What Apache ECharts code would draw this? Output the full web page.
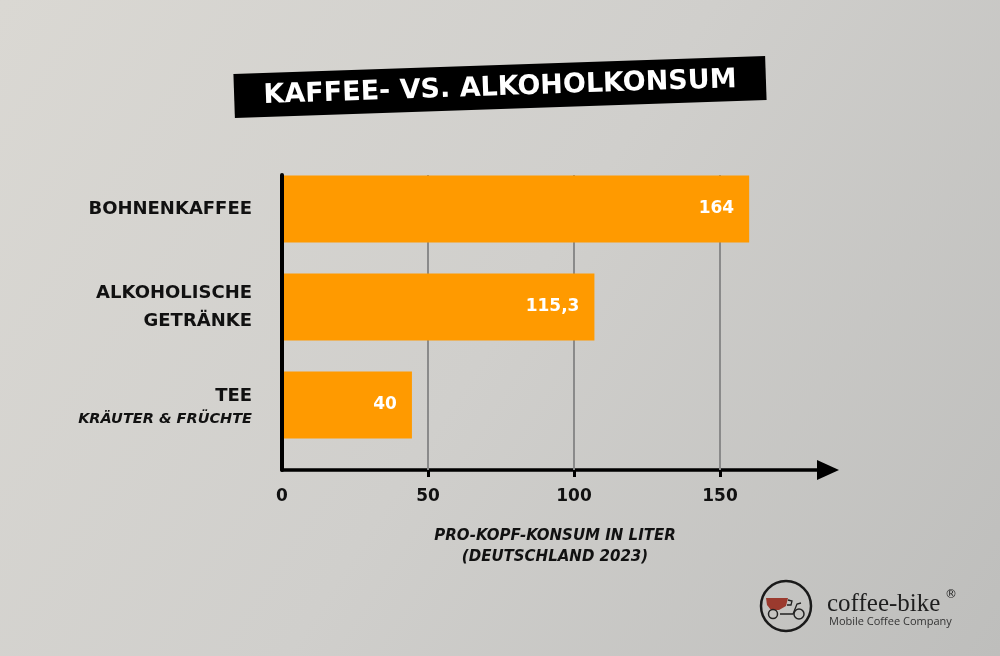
<!DOCTYPE html>
<html>
<head>
<meta charset="utf-8">
<script src="https://cdn.jsdelivr.net/npm/echarts@6/dist/echarts.min.js"></script>
<style>
html,body{margin:0;padding:0;}
#chart{width:1000px;height:656px;}
</style>
</head>
<body>
<div id="chart"></div>
<script>
// ---- data ----
const categories = ['BOHNENKAFFEE', 'ALKOHOLISCHE\nGETRÄNKE', 'TEE'];
const categorySubs = ['', '', 'KRÄUTER & FRÜCHTE'];
// bar lengths as drawn in the picture
const barLengths = [160, 107, 44.5];
// printed value labels
const valueLabels = ['164', '115,3', '40'];
const tickValues = [0, 50, 100, 150];
const gridValues = [50, 100, 150];
const axisName = 'PRO-KOPF-KONSUM IN LITER\n(DEUTSCHLAND 2023)';
const titleText = 'KAFFEE- VS. ALKOHOLKONSUM';

const FONT = 'DejaVu Sans';
const chart = echarts.init(document.getElementById('chart'));
const axisMax = 187;

const option = {
  backgroundColor: {
    type: 'linear', x: 0, y: 0, x2: 1, y2: 1,
    colorStops: [
      {offset: 0, color: '#dad8d3'},
      {offset: 0.5, color: '#d0cfcc'},
      {offset: 1, color: '#bebebc'}
    ]
  },
  animation: false,
  grid: [
    {left: 282, right: 172, top: 160, bottom: 202},
    {left: 282, right: 172, top: 175, bottom: 186}
  ],
  xAxis: [
    {gridIndex: 0, type: 'value', min: 0, max: axisMax, show: false},
    {
      gridIndex: 1, type: 'value', min: 0, max: axisMax,
      axisLine: {show: true, lineStyle: {color: '#000', width: 3.5},
        symbol: ['none', 'triangle'], symbolSize: [20, 22]},
      axisTick: {show: true, length: 7, lineStyle: {color: '#000', width: 3}, customValues: gridValues},
      axisLabel: {show: true, customValues: tickValues, margin: 18,
        fontFamily: FONT, fontWeight: 'bold', fontSize: 17, color: '#111'},
      splitLine: {show: false},
      name: axisName, nameLocation: 'middle', nameGap: 56,
      nameTextStyle: {fontFamily: FONT, fontWeight: 'bold', fontStyle: 'italic',
        fontSize: 15, lineHeight: 21, color: '#111'}
    }
  ],
  yAxis: [
    {
      gridIndex: 0, type: 'category', inverse: true, data: categories,
      axisLine: {show: false}, axisTick: {show: false},
      axisLabel: {
        margin: 30, align: 'right',
        formatter: function (v, i) {
          const sub = categorySubs[i];
          return sub ? '{main|' + v + '}\n{sub|' + sub + '}' : '{main|' + v + '}';
        },
        rich: {
          main: {fontFamily: FONT, fontWeight: 'bold', fontSize: 18, color: '#111', lineHeight: 28, align: 'right'},
          sub: {fontFamily: FONT, fontWeight: 'bold', fontStyle: 'italic', fontSize: 14.5, color: '#111', lineHeight: 18, align: 'right'}
        }
      }
    },
    {
      gridIndex: 1, type: 'value', min: 0, max: 1, z: 5,
      axisLine: {show: true, lineStyle: {color: '#000', width: 4}},
      axisTick: {show: false}, axisLabel: {show: false}, splitLine: {show: false}
    }
  ],
  series: [
    {
      type: 'line', xAxisIndex: 1, yAxisIndex: 1, data: [], z: 1,
      markLine: {
        silent: true, symbol: 'none', z: 1,
        lineStyle: {color: '#8a8a8a', width: 2, type: 'solid'},
        label: {show: false},
        data: gridValues.map(v => ({xAxis: v}))
      }
    },
    {
      type: 'bar', xAxisIndex: 0, yAxisIndex: 0, z: 4,
      data: barLengths, barWidth: 67,
      itemStyle: {color: '#ff9a00'},
      label: {
        show: true, position: 'insideRight', distance: 15,
        formatter: p => valueLabels[p.dataIndex],
        fontFamily: FONT, fontWeight: 'bold', fontSize: 17, color: '#fff'
      }
    }
  ],
  graphic: [
    {
      type: 'group', x: 500, y: 87, rotation: 0.034,
      children: [
        {type: 'rect', shape: {x: -266, y: -22, width: 532, height: 44}, style: {fill: '#000'}},
        {type: 'text', x: 0, y: 1, style: {text: titleText, fill: '#fff', align: 'center', verticalAlign: 'middle',
          font: 'bold 27px "DejaVu Sans"'}}
      ]
    },
    {
      type: 'group', x: 0, y: 0,
      children: [
        {type: 'circle', shape: {cx: 786, cy: 606, r: 25}, style: {fill: 'none', stroke: '#1a1a1a', lineWidth: 2.5}},
        {type: 'polygon', shape: {points: [[766, 598], [788, 598], [786, 606], [779, 610], [771, 610], [767, 605]]}, style: {fill: '#9b3a2e'}},
        {type: 'circle', shape: {cx: 773, cy: 614, r: 4.5}, style: {fill: 'none', stroke: '#222', lineWidth: 1.5}},
        {type: 'circle', shape: {cx: 799, cy: 614, r: 5}, style: {fill: 'none', stroke: '#222', lineWidth: 1.5}},
        {type: 'polyline', shape: {points: [[788, 600], [792, 601], [791, 605], [787, 605]]}, style: {fill: 'none', stroke: '#222', lineWidth: 1.3}},
        {type: 'polyline', shape: {points: [[780, 614], [793, 614], [797, 604], [801, 603]]}, style: {fill: 'none', stroke: '#222', lineWidth: 1.3}},
        {type: 'text', x: 827, y: 604, style: {text: 'coffee-bike', fill: '#1e1e1e', font: '25px "Liberation Serif"', verticalAlign: 'middle'}},
        {type: 'text', x: 945, y: 595, style: {text: '®', fill: '#1e1e1e', font: '12px "DejaVu Sans"', verticalAlign: 'middle'}},
        {type: 'text', x: 829, y: 622, style: {text: 'Mobile Coffee Company', fill: '#333', font: '11px "Open Sans"', verticalAlign: 'middle'}}
      ]
    }
  ]
};
chart.setOption(option);
</script>
</body>
</html>
